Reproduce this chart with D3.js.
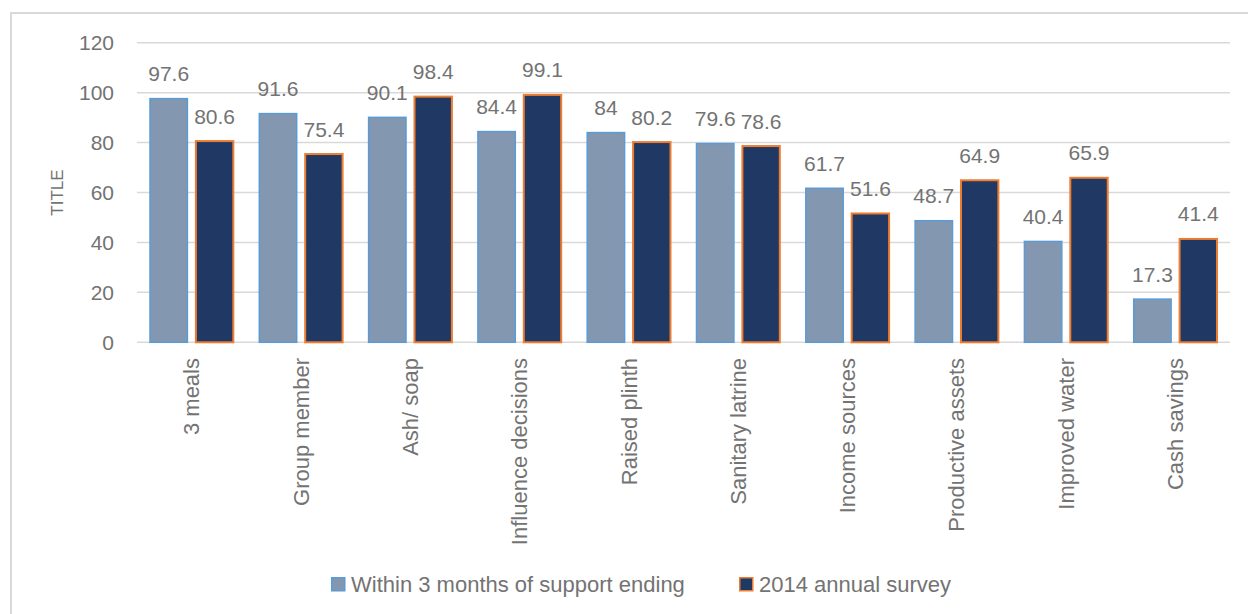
<!DOCTYPE html>
<html>
<head>
<meta charset="utf-8">
<script src="https://cdn.jsdelivr.net/npm/d3@7"></script>
<style>
  body { margin: 0; background: #fff; }
  svg text { font-family: "Liberation Sans", Arial, sans-serif; fill: #737373; }
</style>
</head>
<body>
<script>

// Categories and the two series
var categories = ["3 meals", "Group member", "Ash/ soap", "Influence decisions", "Raised plinth",
                  "Sanitary latrine", "Income sources", "Productive assets", "Improved water", "Cash savings"];
var seriesNames = ["Within 3 months of support ending", "2014 annual survey"];
var within3Months = [97.6, 91.6, 90.1, 84.4, 84, 79.6, 61.7, 48.7, 40.4, 17.3];
var annualSurvey = [80.6, 75.4, 98.4, 99.1, 80.2, 78.6, 51.6, 64.9, 65.9, 41.4];
var yTicks = [0, 20, 40, 60, 80, 100, 120];

var fills = ["#8497b0", "#203864"];
var strokes = ["#5b9bd5", "#ed7d31"];

var width = 1248, height = 614;
var plot = {left: 137, right: 1230, top: 42.7, bottom: 342.3};

// Build rows for the bars
var rows = [];
categories.forEach(function(c, i) {
  rows.push({cat: c, series: 0, value: within3Months[i]});
  rows.push({cat: c, series: 1, value: annualSurvey[i]});
});

var svg = d3.select("body").append("svg")
    .attr("width", width)
    .attr("height", height);

// Chart frame
svg.append("rect")
    .attr("x", 11).attr("y", 13)
    .attr("width", 1300).attr("height", 700)
    .attr("fill", "none")
    .attr("stroke", "#d9d9d9")
    .attr("stroke-width", 2);

// Scales
var xScale = d3.scaleBand()
    .domain(categories)
    .range([plot.left, plot.right]);

var xInner = d3.scaleBand()
    .domain([0, 1])
    .range([13, xScale.bandwidth() - 13])
    .paddingInner(0.185);

var yScale = d3.scaleLinear()
    .domain([0, 120])
    .range([plot.bottom, plot.top]);

// Gridlines
svg.append("g")
  .selectAll("line")
  .data(yTicks)
  .enter()
  .append("line")
    .attr("x1", plot.left)
    .attr("x2", plot.right)
    .attr("y1", function(d) { return yScale(d); })
    .attr("y2", function(d) { return yScale(d); })
    .attr("stroke", "#d9d9d9")
    .attr("stroke-width", 1.5);

// Y axis labels (no axis line)
var yAxis = d3.axisLeft(yScale)
    .tickValues(yTicks)
    .tickSize(0)
    .tickPadding(0);

var yg = svg.append("g")
    .attr("transform", "translate(114,0)")
    .call(yAxis);
yg.select(".domain").remove();
yg.selectAll("text")
    .style("font-size", "21px")
    .attr("fill", "#737373")
    .attr("font-family", "Liberation Sans, Arial, sans-serif");

// Y axis title
svg.append("text")
    .attr("transform", "translate(57," + ((plot.top + plot.bottom) / 2) + ") rotate(-90)")
    .attr("text-anchor", "middle")
    .attr("dy", "0.35em")
    .style("font-size", "17px")
    .text("TITLE");

// Bars
svg.append("g")
  .selectAll("rect")
  .data(rows)
  .enter()
  .append("rect")
    .attr("x", function(d) { return xScale(d.cat) + xInner(d.series); })
    .attr("y", function(d) { return yScale(d.value); })
    .attr("width", xInner.bandwidth())
    .attr("height", function(d) { return yScale(0) - yScale(d.value); })
    .attr("fill", function(d) { return fills[d.series]; })
    .attr("stroke", function(d) { return strokes[d.series]; })
    .attr("stroke-width", function(d) { return d.series == 0 ? 1.5 : 2; });

// Data labels
svg.append("g")
  .selectAll("text")
  .data(rows)
  .enter()
  .append("text")
    .attr("x", function(d) { return xScale(d.cat) + xInner(d.series) + xInner.bandwidth() / 2; })
    .attr("y", function(d) { return yScale(d.value) - 17.5; })
    .attr("text-anchor", "middle")
    .style("font-size", "21px")
    .text(function(d) { return d.value; });

// Category labels, rotated
svg.append("g")
  .selectAll("text")
  .data(categories)
  .enter()
  .append("text")
    .attr("transform", function(d) {
      return "translate(" + (xScale(d) + xScale.bandwidth() / 2) + ",358) rotate(-90)";
    })
    .attr("text-anchor", "end")
    .attr("dy", "0.35em")
    .style("font-size", "22px")
    .text(function(d) { return d; });

// Legend
var legendX = [331, 739];
var legend = svg.append("g")
  .selectAll("g")
  .data(seriesNames)
  .enter()
  .append("g")
    .attr("transform", function(d, i) { return "translate(" + legendX[i] + ",577)"; });

legend.append("rect")
    .attr("x", 0.75).attr("y", 0.75)
    .attr("width", 13).attr("height", 13)
    .attr("fill", function(d, i) { return fills[i]; })
    .attr("stroke", function(d, i) { return strokes[i]; })
    .attr("stroke-width", 1.5);

legend.append("text")
    .attr("x", 20)
    .attr("y", 15)
    .style("font-size", "22px")
    .text(function(d) { return d; });

</script>
</body>
</html>
